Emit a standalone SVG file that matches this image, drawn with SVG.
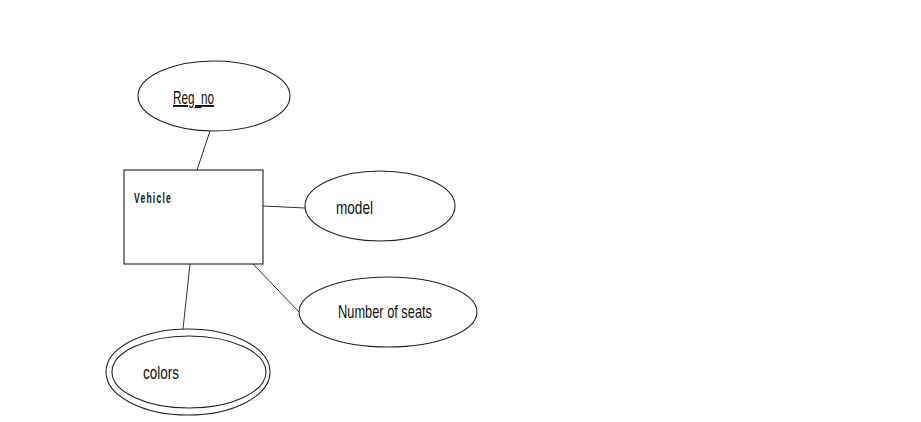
<svg xmlns="http://www.w3.org/2000/svg" width="921" height="422" viewBox="0 0 921 422">
<style>
.shape{fill:#fff;stroke:#222;stroke-width:1.1}
.conn{stroke:#333;stroke-width:1;fill:none}
.lbl{font-family:"Liberation Sans Narrow","Liberation Sans",Arial,sans-serif;font-size:19px;fill:#111}
.ent{font-family:"Liberation Sans Narrow","Liberation Sans",Arial,sans-serif;font-size:14px;font-weight:bold;fill:#111;letter-spacing:2px}
</style>
<rect width="921" height="422" fill="#fff"/>
<g id="connectors">
<line class="conn" x1="210" y1="131" x2="197" y2="170"/>
<line class="conn" x1="263" y1="206" x2="305" y2="208"/>
<line class="conn" x1="253" y1="264" x2="299" y2="312"/>
<line class="conn" x1="190" y1="264" x2="183" y2="329"/>
</g>
<g id="vehicle">
<rect class="shape" x="124" y="170" width="139" height="94"/>
<text class="ent" x="134" y="203" textLength="38" lengthAdjust="spacingAndGlyphs">Vehicle</text>
</g>
<g id="reg_no">
<ellipse class="shape" cx="214" cy="96" rx="76" ry="35"/>
<text class="lbl" x="173" y="104" textLength="41" lengthAdjust="spacingAndGlyphs" text-decoration="underline">Reg_no</text>
</g>
<g id="model">
<ellipse class="shape" cx="380" cy="206" rx="75" ry="35"/>
<text class="lbl" x="336" y="214" textLength="37" lengthAdjust="spacingAndGlyphs">model</text>
</g>
<g id="seats">
<ellipse class="shape" cx="388" cy="312" rx="89" ry="35"/>
<text class="lbl" x="338" y="318" textLength="94" lengthAdjust="spacingAndGlyphs">Number of seats</text>
</g>
<g id="colors">
<ellipse class="shape" cx="188" cy="372" rx="82" ry="43"/>
<ellipse class="shape" cx="189" cy="372" rx="77" ry="36"/>
<text class="lbl" x="143" y="379" textLength="36" lengthAdjust="spacingAndGlyphs">colors</text>
</g>
</svg>
